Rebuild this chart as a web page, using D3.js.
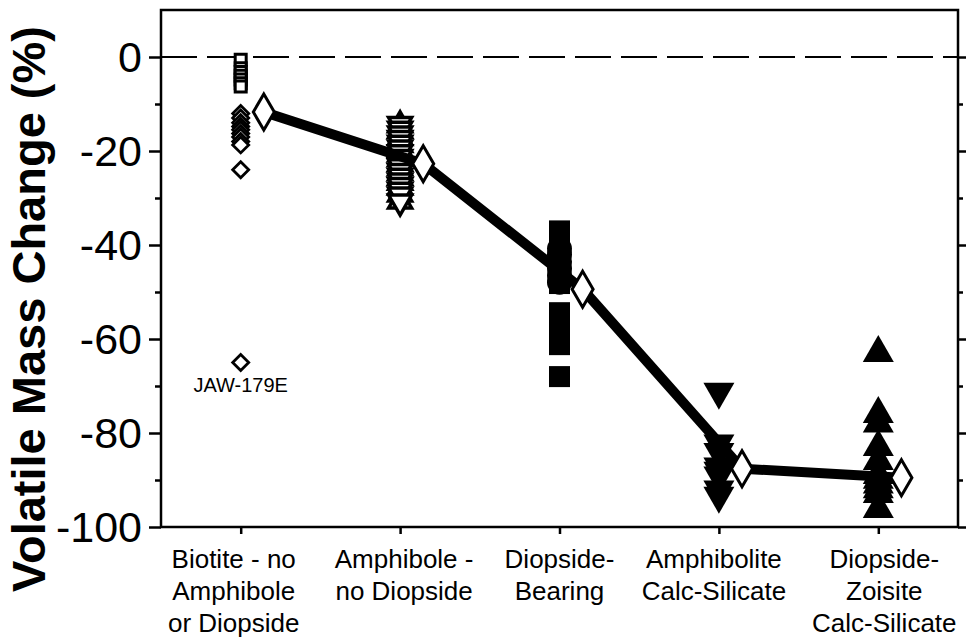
<!DOCTYPE html>
<html>
<head>
<meta charset="utf-8">
<script src="https://cdn.jsdelivr.net/npm/d3@7"></script>
<style>
  html, body { margin: 0; padding: 0; background: #fff; }
  svg { display: block; }
  text { font-family: "Liberation Sans", Arial, Helvetica, sans-serif; fill: #000; }
</style>
</head>
<body>
<svg id="chart" width="966" height="638"></svg>
<script>
// Metamorphic zones along the x axis (multi-line labels)
const categories = [
  ["Biotite - no", "Amphibole", "or Diopside"],
  ["Amphibole -", "no Diopside"],
  ["Diopside-", "Bearing"],
  ["Amphibolite", "Calc-Silicate"],
  ["Diopside-", "Zoisite", "Calc-Silicate"]
];

// Individual samples, volatile mass change (%)
const biotiteSquares   = [-0.6, -2.4, -3.2, -4, -4.8, -5.6, -6.3];
const biotiteDiamonds  = [-12, -13, -14, -14.8, -15.5, -16.3, -17, -18, -18.7, -24, -65];
const amphiboleUp      = [-13.8, -15, -16.5, -18, -19, -20, -21, -22, -23, -24, -25, -26, -27, -28.5, -30];
const amphiboleDown    = [-15, -16, -17, -18, -19, -20, -21, -22, -24, -25, -26, -27, -28, -29, -30, -31.5];
const diopsideSquares  = [-37, -38.5, -40, -42, -44, -46, -48.2, -54.4, -56, -57.5, -59, -60, -61.2, -68];
const diopsideCircles  = [-40.8, -42, -43.5, -45, -46.5, -47.9];
const amphiboliteDown  = [-72.2, -83.2, -85, -88.1, -89, -90, -93, -94.3];
const zoisiteUp        = [-62, -75, -77, -82, -85, -88, -89, -90, -91, -92, -95.2];

// Zone averages
const zoneMeans = [-11.7, -22.7, -49.4, -87.6, -89.5];

// Y axis ticks
const majorTicks = [0, -20, -40, -60, -80, -100];
const minorTicks = [-10, -30, -50, -70, -90];

const svg = d3.select("#chart");
const plotLeft = 161, plotRight = 958, plotTop = 10, plotBottom = 527;

const x = d3.scaleLinear().domain([0.5, 5.5]).range([plotLeft, plotRight]);
const y = d3.scaleLinear().domain([-100, 10]).range([plotBottom, plotTop]);

// zero reference line
svg.append("line")
  .attr("x1", plotLeft).attr("x2", plotRight)
  .attr("y1", y(0)).attr("y2", y(0))
  .attr("stroke", "#000").attr("stroke-width", 2)
  .attr("stroke-dasharray", "36,10");

// axes
function styleAxis(g) {
  g.select(".domain").remove();
  g.selectAll(".tick line").attr("stroke", "#000").attr("stroke-width", 2.5);
  g.selectAll(".tick text").remove();
}

svg.append("g").attr("transform", `translate(${plotLeft},0)`)
  .call(d3.axisLeft(y).tickValues(majorTicks).tickSize(12).tickFormat(""))
  .call(styleAxis);
svg.append("g").attr("transform", `translate(${plotLeft},0)`)
  .call(d3.axisLeft(y).tickValues(minorTicks).tickSize(6).tickFormat(""))
  .call(styleAxis);
svg.append("g").attr("transform", `translate(${plotRight},0)`)
  .call(d3.axisRight(y).tickValues(majorTicks).tickSize(8).tickFormat(""))
  .call(styleAxis);
svg.append("g").attr("transform", `translate(${plotRight},0)`)
  .call(d3.axisRight(y).tickValues(minorTicks).tickSize(5).tickFormat(""))
  .call(styleAxis);
svg.append("g").attr("transform", `translate(0,${plotBottom})`)
  .call(d3.axisBottom(x).tickValues([1, 2, 3, 4, 5]).tickSize(7).tickFormat(""))
  .call(styleAxis);

// frame
svg.append("rect")
  .attr("x", plotLeft).attr("y", plotTop)
  .attr("width", plotRight - plotLeft).attr("height", plotBottom - plotTop)
  .attr("fill", "none").attr("stroke", "#000").attr("stroke-width", 2.5);

// y tick labels
svg.append("g").selectAll("text").data(majorTicks).join("text")
  .attr("x", 142).attr("y", d => y(d))
  .attr("dy", "0.36em")
  .attr("text-anchor", "end")
  .attr("font-size", 43)
  .text(d => d);

// y axis title
svg.append("text")
  .attr("transform", `translate(45,309) rotate(-90)`)
  .attr("text-anchor", "middle")
  .attr("font-size", 47)
  .attr("font-weight", "bold")
  .text("Volatile Mass Change (%)");

// category labels, each block nudged slightly around its tick
const labelShift = [-7, 4, 0, -5, 6];
const catG = svg.append("g").selectAll("text").data(categories).join("text")
  .attr("text-anchor", "middle")
  .attr("font-size", 26);
catG.each(function (lines, i) {
  d3.select(this).selectAll("tspan").data(lines).join("tspan")
    .attr("x", x(i + 1) + labelShift[i])
    .attr("y", (d, j) => 568 + j * 32)
    .text(d => d);
});

// marker shapes
const tri = (w, h, up) => up
  ? `M0,${-h / 2}L${w / 2},${h / 2}L${-w / 2},${h / 2}Z`
  : `M0,${h / 2}L${w / 2},${-h / 2}L${-w / 2},${-h / 2}Z`;
const diamond = (w, h) => `M0,${-h / 2}L${w / 2},0L0,${h / 2}L${-w / 2},0Z`;

function plot(values, zone, path, fill, stroke, sw) {
  svg.append("g").selectAll("path").data(values).join("path")
    .attr("transform", d => `translate(${x(zone)},${y(d)})`)
    .attr("d", path)
    .attr("fill", fill)
    .attr("stroke", stroke)
    .attr("stroke-width", sw);
}

// Zone 1
plot(biotiteSquares, 1, "M-5.5,-5.5H5.5V5.5H-5.5Z", "#fff", "#000", 3);
plot(biotiteDiamonds, 1, diamond(16, 16), "#fff", "#000", 2.8);
svg.append("text")
  .attr("x", x(1)).attr("y", y(-65) + 29)
  .attr("text-anchor", "middle")
  .attr("font-size", 20)
  .text("JAW-179E");

// Zone 2
plot(amphiboleUp, 2, tri(23, 20, true), "#fff", "#000", 3.5);
plot(amphiboleDown, 2, tri(23, 20, false), "#fff", "#000", 3.5);

// Zone 3
plot(diopsideSquares, 3, "M-10.5,-10.5H10.5V10.5H-10.5Z", "#000", "none", 0);
plot(diopsideCircles, 3, d3.symbol(d3.symbolCircle, Math.PI * 12.5 * 12.5)(), "#000", "none", 0);

// Zone 4
plot(amphiboliteDown, 4, tri(31, 27, false), "#000", "none", 0);

// Zone 5
plot(zoisiteUp, 5, tri(31, 27, true), "#000", "none", 0);

// averages: thick connecting line and open diamonds, offset to the right of each column
const meanOffset = 0.145;
svg.append("path")
  .datum(zoneMeans)
  .attr("d", d3.line().x((d, i) => x(i + 1 + meanOffset)).y(d => y(d)))
  .attr("fill", "none")
  .attr("stroke", "#000")
  .attr("stroke-width", 10)
  .attr("stroke-linejoin", "round");
svg.append("g").selectAll("path").data(zoneMeans).join("path")
  .attr("transform", (d, i) => `translate(${x(i + 1 + meanOffset)},${y(d)})`)
  .attr("d", diamond(21, 36))
  .attr("fill", "#fff")
  .attr("stroke", "#000")
  .attr("stroke-width", 3);
</script>
</body>
</html>
